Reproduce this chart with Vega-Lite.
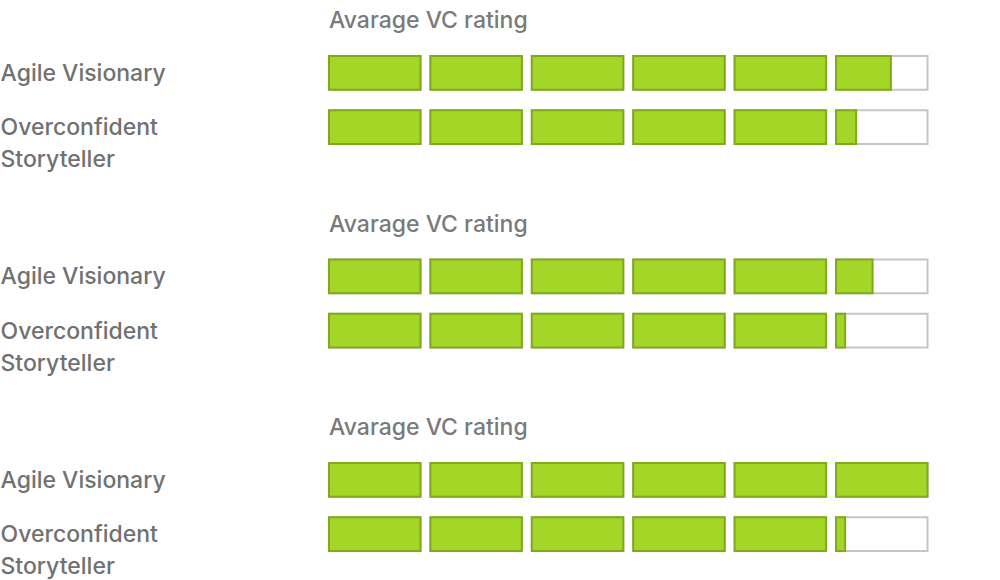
{
  "$schema": "https://vega.github.io/schema/vega-lite/v6.json",
  "padding": {"left": 0, "top": 10, "right": 5, "bottom": 0},
  "background": "white",
  "datasets": {
    "boxes": [
      {"panel": 1, "persona": "Agile Visionary", "box": 1, "fill": 1},
      {"panel": 1, "persona": "Agile Visionary", "box": 2, "fill": 1},
      {"panel": 1, "persona": "Agile Visionary", "box": 3, "fill": 1},
      {"panel": 1, "persona": "Agile Visionary", "box": 4, "fill": 1},
      {"panel": 1, "persona": "Agile Visionary", "box": 5, "fill": 1},
      {"panel": 1, "persona": "Agile Visionary", "box": 6, "fill": 0.6},
      {"panel": 1, "persona": "Overconfident Storyteller", "box": 1, "fill": 1},
      {"panel": 1, "persona": "Overconfident Storyteller", "box": 2, "fill": 1},
      {"panel": 1, "persona": "Overconfident Storyteller", "box": 3, "fill": 1},
      {"panel": 1, "persona": "Overconfident Storyteller", "box": 4, "fill": 1},
      {"panel": 1, "persona": "Overconfident Storyteller", "box": 5, "fill": 1},
      {"panel": 1, "persona": "Overconfident Storyteller", "box": 6, "fill": 0.22},
      {"panel": 2, "persona": "Agile Visionary", "box": 1, "fill": 1},
      {"panel": 2, "persona": "Agile Visionary", "box": 2, "fill": 1},
      {"panel": 2, "persona": "Agile Visionary", "box": 3, "fill": 1},
      {"panel": 2, "persona": "Agile Visionary", "box": 4, "fill": 1},
      {"panel": 2, "persona": "Agile Visionary", "box": 5, "fill": 1},
      {"panel": 2, "persona": "Agile Visionary", "box": 6, "fill": 0.4},
      {"panel": 2, "persona": "Overconfident Storyteller", "box": 1, "fill": 1},
      {"panel": 2, "persona": "Overconfident Storyteller", "box": 2, "fill": 1},
      {"panel": 2, "persona": "Overconfident Storyteller", "box": 3, "fill": 1},
      {"panel": 2, "persona": "Overconfident Storyteller", "box": 4, "fill": 1},
      {"panel": 2, "persona": "Overconfident Storyteller", "box": 5, "fill": 1},
      {"panel": 2, "persona": "Overconfident Storyteller", "box": 6, "fill": 0.1},
      {"panel": 3, "persona": "Agile Visionary", "box": 1, "fill": 1},
      {"panel": 3, "persona": "Agile Visionary", "box": 2, "fill": 1},
      {"panel": 3, "persona": "Agile Visionary", "box": 3, "fill": 1},
      {"panel": 3, "persona": "Agile Visionary", "box": 4, "fill": 1},
      {"panel": 3, "persona": "Agile Visionary", "box": 5, "fill": 1},
      {"panel": 3, "persona": "Agile Visionary", "box": 6, "fill": 1},
      {"panel": 3, "persona": "Overconfident Storyteller", "box": 1, "fill": 1},
      {"panel": 3, "persona": "Overconfident Storyteller", "box": 2, "fill": 1},
      {"panel": 3, "persona": "Overconfident Storyteller", "box": 3, "fill": 1},
      {"panel": 3, "persona": "Overconfident Storyteller", "box": 4, "fill": 1},
      {"panel": 3, "persona": "Overconfident Storyteller", "box": 5, "fill": 1},
      {"panel": 3, "persona": "Overconfident Storyteller", "box": 6, "fill": 0.1}
    ]
  },
  "config": {
    "view": {"stroke": null},
    "font": "Inter",
    "title": {"font": "Inter", "fontSize": 23, "fontWeight": 500, "color": "#7a7a7a", "anchor": "start", "frame": "group", "offset": 22},
    "axisY": {
      "domain": false, "ticks": false, "grid": false, "title": null,
      "labelAlign": "left", "labelPadding": 328, "labelFont": "Inter", "labelFontSize": 23,
      "labelFontWeight": 500, "labelColor": "#717171", "labelLimit": 0,
      "labelLineHeight": 32, "labelBaseline": "alphabetic", "labelOffset": 8
    }
  },
  "vconcat": [
    {
      "data": {"name": "boxes"},
      "transform": [{"filter": "datum.panel == 1"}],
      "title": "Avarage VC rating",
      "facet": {"column": {"field": "box", "type": "ordinal", "header": null}},
      "spacing": {"column": 7.4},
      "spec": {
        "width": 91.5, "height": 88,
        "encoding": {
          "y": {"field": "persona", "type": "nominal", "scale": {"paddingInner": 0.38, "paddingOuter": 0},
                "axis": {"labelExpr": "datum.value == 'Overconfident Storyteller' ? ['Overconfident', 'Storyteller'] : datum.value"}}
        },
        "layer": [
          {"mark": {"type": "bar", "fill": "white", "stroke": "#c6c6c6", "strokeWidth": 2},
           "encoding": {"x": {"datum": 1, "type": "quantitative", "scale": {"domain": [0, 1], "nice": false, "zero": true}, "axis": null}}},
          {"mark": {"type": "bar", "fill": "#a3d626", "stroke": "#7faa1e", "strokeWidth": 2},
           "encoding": {"x": {"field": "fill", "type": "quantitative", "scale": {"domain": [0, 1], "nice": false, "zero": true}, "axis": null}}}
        ]
      }
    },
    {
      "data": {"name": "boxes"},
      "transform": [{"filter": "datum.panel == 2"}],
      "title": "Avarage VC rating",
      "facet": {"column": {"field": "box", "type": "ordinal", "header": null}},
      "spacing": {"column": 7.4},
      "spec": {
        "width": 91.5, "height": 88,
        "encoding": {
          "y": {"field": "persona", "type": "nominal", "scale": {"paddingInner": 0.38, "paddingOuter": 0},
                "axis": {"labelExpr": "datum.value == 'Overconfident Storyteller' ? ['Overconfident', 'Storyteller'] : datum.value"}}
        },
        "layer": [
          {"mark": {"type": "bar", "fill": "white", "stroke": "#c6c6c6", "strokeWidth": 2},
           "encoding": {"x": {"datum": 1, "type": "quantitative", "scale": {"domain": [0, 1], "nice": false, "zero": true}, "axis": null}}},
          {"mark": {"type": "bar", "fill": "#a3d626", "stroke": "#7faa1e", "strokeWidth": 2},
           "encoding": {"x": {"field": "fill", "type": "quantitative", "scale": {"domain": [0, 1], "nice": false, "zero": true}, "axis": null}}}
        ]
      }
    },
    {
      "data": {"name": "boxes"},
      "transform": [{"filter": "datum.panel == 3"}],
      "title": "Avarage VC rating",
      "facet": {"column": {"field": "box", "type": "ordinal", "header": null}},
      "spacing": {"column": 7.4},
      "spec": {
        "width": 91.5, "height": 88,
        "encoding": {
          "y": {"field": "persona", "type": "nominal", "scale": {"paddingInner": 0.38, "paddingOuter": 0},
                "axis": {"labelExpr": "datum.value == 'Overconfident Storyteller' ? ['Overconfident', 'Storyteller'] : datum.value"}}
        },
        "layer": [
          {"mark": {"type": "bar", "fill": "white", "stroke": "#c6c6c6", "strokeWidth": 2},
           "encoding": {"x": {"datum": 1, "type": "quantitative", "scale": {"domain": [0, 1], "nice": false, "zero": true}, "axis": null}}},
          {"mark": {"type": "bar", "fill": "#a3d626", "stroke": "#7faa1e", "strokeWidth": 2},
           "encoding": {"x": {"field": "fill", "type": "quantitative", "scale": {"domain": [0, 1], "nice": false, "zero": true}, "axis": null}}}
        ]
      }
    }
  ],
  "spacing": 41.5
}
